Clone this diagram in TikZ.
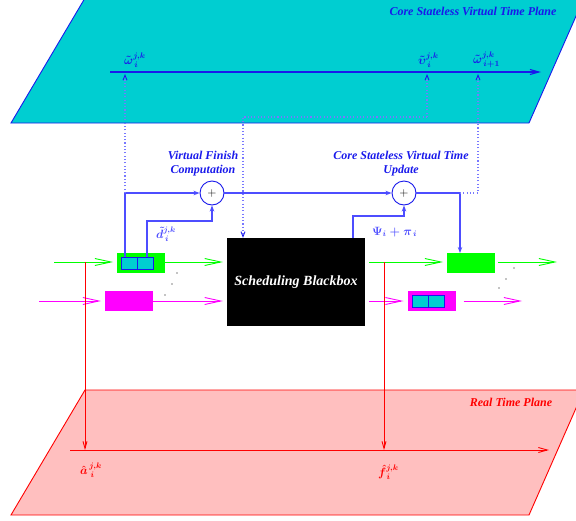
\documentclass[tikz,border=0pt]{standalone}
\usepackage{amsmath}
\usepackage{fontspec}
\setmainfont{Liberation Serif}
\usetikzlibrary{arrows.meta,calc}
\definecolor{cyanp}{RGB}{0,206,209}
\definecolor{pinkp}{RGB}{255,191,191}
\definecolor{lblue}{RGB}{77,77,255}
\definecolor{dblue}{RGB}{25,25,235}
\definecolor{dotblue}{RGB}{120,120,255}
\definecolor{grn}{RGB}{0,255,0}
\definecolor{mgt}{RGB}{255,0,255}
\definecolor{redp}{RGB}{255,0,0}
\definecolor{redl}{RGB}{255,110,110}
\begin{document}
\begin{tikzpicture}[x=1pt,y=-1pt,
  lbl/.style={font=\fontsize{12}{13.5}\selectfont\bfseries\itshape, inner sep=0, align=center},
  mlbl/.style={font=\fontsize{12}{14}\selectfont, inner sep=0, anchor=base west},
  gbox/.style={fill=grn, minimum width=48pt, minimum height=20pt, inner sep=0, outer sep=0},
  mbox/.style={fill=mgt, minimum width=48pt, minimum height=20pt, inner sep=0, outer sep=0},
  cell/.style={fill=cyanp, draw=dblue, line width=0.8pt, minimum width=16pt, minimum height=12pt, inner sep=0, outer sep=0},
  bbox/.style={fill=black, text=white, minimum width=138pt, minimum height=88pt, inner sep=0,
    font=\fontsize{14}{16}\selectfont\bfseries\itshape},
  plus/.style={circle, draw=dblue, fill=white, line width=0.9pt, minimum size=24pt, inner sep=0,
    font=\fontsize{12}{12}\selectfont},
  flow/.style={-{Straight Barb[length=16pt,width=7pt,line width=0.9pt]}, line width=0.9pt},
  bline/.style={lblue, line width=1.3pt, -{Stealth[length=6pt,width=4.5pt]}},
  dline/.style={dotblue, line width=1.1pt, dash pattern=on 1.1pt off 2.2pt},
  tick/.style={-{Straight Barb[length=5pt,width=4pt,color=dblue,line width=0.9pt]}},
  rline/.style={redp, line width=0.9pt, -{Straight Barb[length=7pt,width=4pt]}},
  dotm/.style={circle, fill=black, inner sep=0, minimum size=1.4pt}
]
\useasboundingbox (0,0) rectangle (576,520);
\clip (0,0) rectangle (576,520);

% planes
\draw[fill=cyanp, draw=dblue, line width=0.9pt] (11,123) -- (529,123) -- (584,-2) -- (85,-2) -- cycle;
\draw[fill=pinkp, draw=redp, line width=0.9pt] (11,515) -- (529,515) -- (584,390) -- (85,390) -- cycle;

\node[lbl, text=dblue] (vtp) at (473,11) {Core Stateless Virtual Time Plane};
\node[lbl, text=redp] (rtp) at (511,402) {Real Time Plane};

% virtual time axis
\coordinate (vx1) at (110,72);
\coordinate (vx2) at (541,72);
\draw[dblue, line width=1.1pt, -{Straight Barb[length=9pt,width=5pt]}] (vx1) -- (vx2);
\coordinate (t1) at (125,74);
\coordinate (t2) at (427,74);
\coordinate (t3) at (478,74);
\node[mlbl, text=dblue] (lw1) at (124,64) {$\boldsymbol{\tilde{\omega}_{\,i}^{j,k}}$};
\node[mlbl, text=dblue] (lv) at (418,64) {$\boldsymbol{\tilde{\upsilon}_{\,i}^{j,k}}$};
\node[mlbl, text=dblue] (lw2) at (473,63) {$\boldsymbol{\tilde{\omega}_{\,i+1}^{j,k}}$};

% real time axis
\coordinate (rx1) at (70,450);
\coordinate (rx2) at (549,450);
\draw[redp, line width=0.9pt, -{Straight Barb[length=9pt,width=5pt]}] (rx1) -- (rx2);
\node[mlbl, text=redp] (la) at (80,474) {$\boldsymbol{\hat{a}_{\;i}^{\,j,k}}$};
\node[mlbl, text=redp] (lf) at (378,476) {$\boldsymbol{\hat{f}_{\,i}^{j,k}}$};

% black box
\node[bbox] (box) at (296,282) {Scheduling Blackbox};

% queues
\node[gbox] (gq1) at (141,263) {};
\node[cell] (c1) at (129,263) {};
\node[cell] (c2) at (145,263) {};
\node[mbox] (mq1) at (129,301) {};
\node[gbox] (gq2) at (471,263) {};
\node[mbox] (mq2) at (431.5,301) {};
\node[cell] (c3) at (420,301) {};
\node[cell] (c4) at (436,301) {};

% flow lines
\coordinate (gin) at (54,262);
\coordinate (gout) at (557,262);
\coordinate (min) at (39,301);
\coordinate (mout) at (522,301);
\draw[grn, flow, shorten >=4pt] (gin) -- (gin -| gq1.west);
\draw[grn, flow, shorten >=4pt] (gin -| gq1.east) -- (gin -| box.west);
\draw[grn, flow, shorten <=4pt, shorten >=4pt] (gin -| box.east) -- (gin -| gq2.west);
\draw[grn, flow, shorten <=3pt] (gin -| gq2.east) -- (gout);
\draw[mgt, flow, shorten >=4pt] (min) -- (mq1.west);
\draw[mgt, flow, shorten >=4pt] (mq1.east) -- (mq1.east -| box.west);
\draw[mgt, flow, shorten <=4pt, shorten >=4pt] (mq2.west -| box.east) -- (mq2.west);
\draw[mgt, flow, shorten <=8pt] (mq2.east) -- (mout);

% ellipsis dots
\node[dotm] (d1) at (177,273) {};
\node[dotm] (d2) at (172,284) {};
\node[dotm] (d3) at (165,295) {};
\node[dotm] (d4) at (514,268) {};
\node[dotm] (d5) at (506,279) {};
\node[dotm] (d6) at (499,288) {};

% adders
\node[plus] (p1) at (212,193) {$+$};
\node[plus] (p2) at (404,193) {$+$};
\node[lbl, text=dblue] (vfc) at (203,163.5) {Virtual Finish\\Computation};
\node[lbl, text=dblue] (csu) at (401,163.5) {Core Stateless Virtual Time\\Update};

% blue solid connectors
\coordinate (a1) at (125,257);
\coordinate (a2) at (147,257);
\coordinate (k1) at (147,221);
\coordinate (b1) at (353,238);
\coordinate (k2) at (353,216);
\coordinate (j1) at (125,193);
\coordinate (j2) at (460,193);
\draw[bline] (a1) |- (p1);
\draw[bline] (a2) -- (k1) -| (p1);
\draw[bline] (p1) -- (p2);
\draw[bline] (b1) -- (k2) -| (p2);
\draw[bline] (p2) -- (j2) -- (j2 |- gq2.north);
\node[mlbl, text=lblue] (ld) at (156,238) {$\boldsymbol{\tilde{d}_{\,i}^{j,k}}$};
\node[mlbl, text=lblue] (lpsi) at (372,235) {$\boldsymbol{\Psi_{i}+\pi_{\,i}}$};

% dotted connectors
\coordinate (e1) at (427,117);
\coordinate (e2) at (243,117);
\coordinate (j3) at (478,193);
\draw[dline, tick] (j1) -- (t1);
\draw[dline, tick] (e1) -- (t2);
\draw[dline, tick] (e1) -- (e2) -- (e2 |- box.north);
\draw[dline, tick] (j2) -- (j3) -- (t3);

% red connectors
\coordinate (r1) at (85,262);
\coordinate (r2) at (85,450);
\coordinate (r3) at (384,262);
\coordinate (r4) at (384,450);
\draw[rline] (r1) -- (r2);
\draw[rline] (r3) -- (r4);
\end{tikzpicture}
\end{document}
